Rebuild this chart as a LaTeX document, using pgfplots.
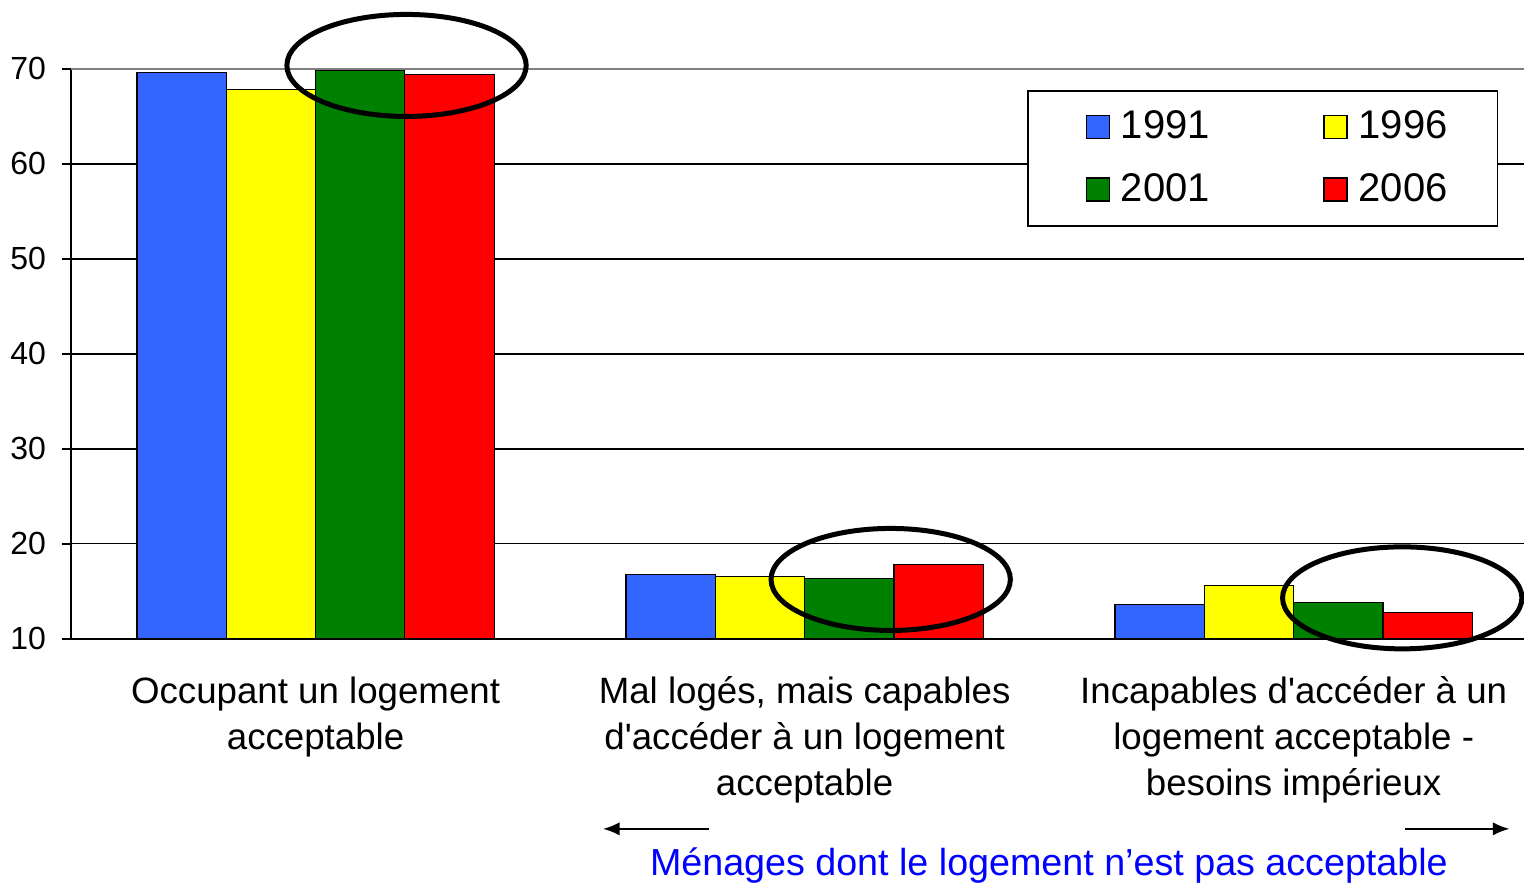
\documentclass[border=0pt]{standalone}
\usepackage{pgfplots}
\pgfplotsset{compat=1.18}
\usepackage{fontspec}
\setmainfont{Liberation Sans}[Ligatures=TeXOff]
\usetikzlibrary{arrows.meta}

\definecolor{cBlue}{RGB}{51,102,255}
\definecolor{cYellow}{RGB}{255,255,0}
\definecolor{cGreen}{RGB}{0,128,0}
\definecolor{cRed}{RGB}{255,0,0}
\definecolor{cText}{RGB}{0,0,255}

\begin{document}
\begin{tikzpicture}
\begin{axis}[
    scale only axis,
    width=435.9pt, height=171pt,
    ybar=0pt,
    bar width=0.1826,
    xmin=-0.5, xmax=2.471,
    ymin=10, ymax=70,
    enlargelimits=false,
    axis lines=left,
    axis line style={black, line width=0.5pt, -},
    xtick={0,1,2},
    xticklabels={
        {Occupant un logement\\acceptable},
        {Mal logés, mais capables\\d'accéder à un logement\\acceptable},
        {Incapables d'accéder à un\\logement acceptable -\\besoins impérieux}},
    x tick label style={align=center, font=\fontsize{11}{13.8}\selectfont, yshift=-5pt},
    major x tick style={draw=none},
    extra x ticks={-0.5,0.5,1.5},
    extra x tick labels={},
    extra x tick style={major tick length=2.8pt, tick style={black, line width=0.5pt}, grid=none},
    ytick={10,20,...,60},
    extra y ticks={70},
    extra y tick style={grid style={gray, line width=0.7pt}},
    ymajorgrids,
    grid style={black, line width=0.35pt},
    tick align=outside,
    ytick pos=left,
    major tick length=2.8pt,
    tick style={black, line width=0.5pt},
    y tick label style={font=\fontsize{9.6}{11}\selectfont, xshift=-1.2pt},
    /pgf/number format/assume math mode=true,
    clip=false,
    legend columns=2,
    legend cell align=left,
    legend style={
        at={(0.658,0.963)}, anchor=north west,
        draw=black, line width=0.5pt,
        font=\fontsize{12}{14}\selectfont,
        inner xsep=13pt, inner ysep=4pt,
        row sep=4.8pt,
        /tikz/every even column/.append style={column sep=27.7pt},
    },
    legend image code/.code={
        \path[draw=none, fill=none] (0pt,0pt) rectangle (12.9pt,0pt);
        \draw[#1, line width=0.4pt] (4.5pt,-3.45pt) rectangle (11.4pt,3.45pt);
    },
]
\addplot[fill=cBlue, draw=black, line width=0.35pt] coordinates {(0,69.6) (1,16.8) (2,13.6)};
\addplot[fill=cYellow, draw=black, line width=0.35pt] coordinates {(0,67.8) (1,16.6) (2,15.6)};
\addplot[fill=cGreen, draw=black, line width=0.35pt] coordinates {(0,69.8) (1,16.4) (2,13.8)};
\addplot[fill=cRed, draw=black, line width=0.35pt] coordinates {(0,69.4) (1,17.8) (2,12.8)};
\legend{1991,1996,2001,2006}

% highlight ellipses
\draw[black, line width=1.5pt] (axis cs:0.186,70.37) ellipse [x radius=35.9pt, y radius=15.3pt];
\draw[black, line width=1.5pt] (axis cs:1.176,16.26) ellipse [x radius=35.9pt, y radius=15.3pt];
\draw[black, line width=1.5pt] (axis cs:2.222,14.32) ellipse [x radius=35.9pt, y radius=15.3pt];

% arrows and bracket caption
\draw[-{Latex[length=5pt,width=4pt]}, line width=0.6pt] (rel axis cs:0.4394,-0.3333) -- (rel axis cs:0.3661,-0.3333);
\draw[-{Latex[length=5pt,width=4pt]}, line width=0.6pt] (rel axis cs:0.918,-0.3333) -- (rel axis cs:0.990,-0.3333);
\node[text=cText, font=\fontsize{11.3}{13}\selectfont] at (rel axis cs:0.673,-0.398) {Ménages dont le logement n’est pas acceptable};

\coordinate (bbA) at (rel axis cs:-0.0489,-0.4298);
\coordinate (bbB) at (rel axis cs:1.0,1.121);
\end{axis}
\pgfresetboundingbox
\path[use as bounding box] (bbA) rectangle (bbB);
\end{tikzpicture}
\end{document}
